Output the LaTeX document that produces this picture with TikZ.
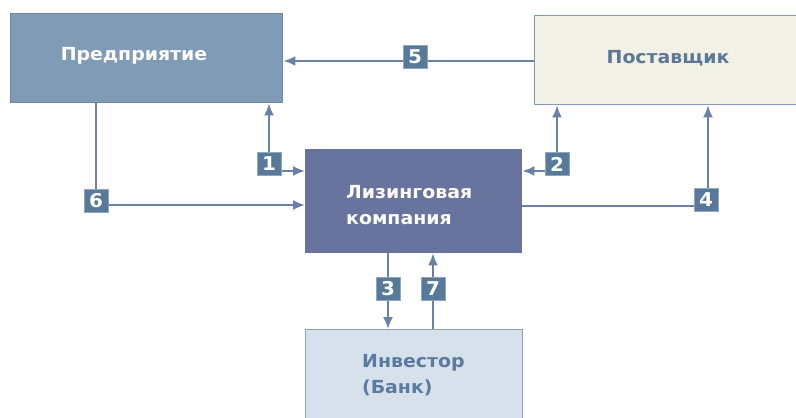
\documentclass[tikz,border=0pt]{standalone}
\usepackage{fontspec}
\setmainfont{DejaVu Sans}[FakeStretch=1.05]
\usetikzlibrary{arrows.meta}
\definecolor{predfill}{HTML}{7F9BB6}
\definecolor{predline}{HTML}{6A87A6}
\definecolor{postfill}{HTML}{F1F1E6}
\definecolor{postline}{HTML}{7F98B4}
\definecolor{postt}{HTML}{5B7898}
\definecolor{lizfill}{HTML}{68749E}
\definecolor{invfill}{HTML}{D7E1EC}
\definecolor{invline}{HTML}{8CA2BA}
\definecolor{invt}{HTML}{5B7AA0}
\definecolor{conn}{HTML}{6B80A8}
\definecolor{labfill}{HTML}{587A9A}
\definecolor{labline}{HTML}{8FA6BC}
\tikzset{
  box/.style={draw, line width=1.4pt, inner sep=0pt, anchor=north west},
  btext/.style={font=\bfseries\fontsize{18}{26}\selectfont, inner sep=0pt, align=left},
  conn/.style={draw=conn, line width=2pt, -{Latex[length=12pt,width=10pt]}},
  conn2/.style={draw=conn, line width=2pt, {Latex[length=12pt,width=10pt]}-{Latex[length=12pt,width=10pt]}},
  numbox/.style={fill=labfill, draw=labline, line width=0.8pt, minimum width=24pt, minimum height=23pt, inner sep=0pt, text=white, font=\bfseries\fontsize{19}{19}\selectfont},
}
\begin{document}
\begin{tikzpicture}[x=1pt,y=-1pt]
\useasboundingbox[fill=white] (0,0) rectangle (796,418);
% boxes
\node[box, fill=predfill, draw=predline, minimum width=272pt, minimum height=89pt] (pred) at (10,13) {};
\node[box, fill=postfill, draw=postline, minimum width=280pt, minimum height=89pt] (post) at (534,15) {};
\node[box, fill=lizfill, draw=lizfill, minimum width=216pt, minimum height=103pt] (liz) at (305,149) {};
\node[box, fill=invfill, draw=invline, minimum width=217pt, minimum height=110pt] (inv) at (305,329) {};
% texts
\node[btext, text=white] (predt) at (134,56) {Предприятие};
\node[btext, text=postt] (postt) at (668,58) {Поставщик};
\node[btext, text=white, anchor=west] (lizt) at (346,205) {Лизинговая\\компания};
\node[btext, text=invt, anchor=west] (invt) at (362,375) {Инвестор\\(Банк)};
% connectors
\draw[conn] (post.west |- 0,61) -- (pred.east |- 0,61);
\draw[conn2] (pred.south -| 269,0) -- (269,171) -- (liz.west |- 0,171);
\draw[conn2] (post.south -| 557,0) -- (557,171) -- (liz.east |- 0,171);
\draw[conn] (pred.south -| 96,0) -- (96,205) -- (liz.west |- 0,205);
\draw[conn] (liz.east |- 0,206) -- (708,206) -- (post.south -| 708,0);
\draw[conn] (liz.south -| 388,0) -- (inv.north -| 388,0);
\draw[conn] (inv.north -| 433,0) -- (liz.south -| 433,0);
% number labels
\node[numbox] (l5) at (415,57) {5};
\node[numbox] (l1) at (269,164) {1};
\node[numbox] (l2) at (557,164) {2};
\node[numbox] (l6) at (96,201) {6};
\node[numbox] (l4) at (706,200) {4};
\node[numbox] (l3) at (388,289) {3};
\node[numbox] (l7) at (433,289) {7};
\end{tikzpicture}
\end{document}
